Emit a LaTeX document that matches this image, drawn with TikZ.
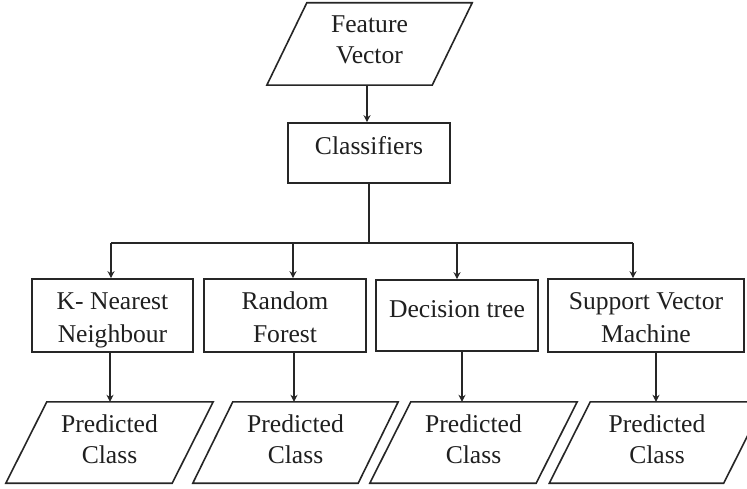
\documentclass[tikz,border=0pt]{standalone}
\usepackage{fontspec}
\setmainfont{Liberation Serif}
\usetikzlibrary{arrows.meta}
% invisible struts that fix the top and bottom of a node's text block
\newcommand\tstrut{\rule{0pt}{30pt}}
\newcommand\bstrut[1]{\rule[-#1pt]{0pt}{#1pt}}
\begin{document}
\begin{tikzpicture}[x=1pt,y=-1pt,
  every node/.style={font=\fontsize{25.6pt}{31pt}\selectfont, align=center, inner sep=0pt, text=black!88},
  procbox/.style={draw=black!85, line width=1.6pt, minimum height=71pt,
                  font=\fontsize{25.6pt}{33pt}\selectfont},
  iobox/.style={minimum height=81pt},
  link/.style={draw=black!85, line width=1.6pt},
  arr/.style={link, -{Stealth[length=7pt,width=7pt]}}
]
\useasboundingbox (0,0) rectangle (747,489);
\fill[white] (0,0) rectangle (747,489);

% input and classifier stage
\node[iobox, minimum width=205pt, minimum height=82pt] (fv) at (369.5,44) {\tstrut Feature\\Vector\bstrut{21}};
\node[procbox, minimum width=162pt, minimum height=60pt] (cls) at (369,153) {\tstrut Classifiers\bstrut{26}};

% the four classifiers
\node[procbox, minimum width=161pt] (knn) at (112.5,315.5) {\tstrut K- Nearest\\Neighbour\bstrut{10}};
\node[procbox, minimum width=162pt] (rf)  at (285,315.5) {\tstrut Random\\Forest\bstrut{10}};
\node[procbox, minimum width=162pt] (dt)  at (457,315.5) {\tstrut Decision tree\bstrut{27}};
\node[procbox, minimum width=196pt] (svm) at (646,315.5) {\tstrut Support Vector\\Machine\bstrut{10}};

% outputs
\node[iobox, minimum width=207pt] (p1) at (109.5,442.5) {\tstrut Predicted\\Class\bstrut{20}};
\node[iobox, minimum width=205pt] (p2) at (295.5,442.5) {\tstrut Predicted\\Class\bstrut{20}};
\node[iobox, minimum width=207pt] (p3) at (473.5,442.5) {\tstrut Predicted\\Class\bstrut{20}};
\node[iobox, minimum width=215pt] (p4) at (657,442.5) {\tstrut Predicted\\Class\bstrut{20}};

% parallelogram outlines around the input/output nodes
\foreach \n/\s in {fv/40,p1/41,p2/40,p3/41,p4/41}{
  \draw[link, line join=miter] ([xshift=\s pt]\n.north west) -- (\n.north east)
     -- ([xshift=-\s pt]\n.south east) -- (\n.south west) -- cycle;
}

% column positions of the connectors
\coordinate (top) at (367,0);
\coordinate (b1) at (111,243);
\coordinate (b2) at (293,243);
\coordinate (b3) at (457,243);
\coordinate (b4) at (633,243);
\coordinate (d1) at (110,0);
\coordinate (d2) at (294,0);
\coordinate (d3) at (462,0);
\coordinate (d4) at (656,0);

\draw[arr] (fv.south -| top) -- (cls.north -| top);
\draw[link] (cls.south) -- (cls.south |- b1);
\draw[link] (b1) -- (b4);
\draw[arr] (b1) -- (knn.north -| b1);
\draw[arr] (b2) -- (rf.north -| b2);
\draw[arr] (b3) -- (dt.north -| b3);
\draw[arr] (b4) -- (svm.north -| b4);

\draw[arr] (knn.south -| d1) -- (p1.north -| d1);
\draw[arr] (rf.south -| d2) -- (p2.north -| d2);
\draw[arr] (dt.south -| d3) -- (p3.north -| d3);
\draw[arr] (svm.south -| d4) -- (p4.north -| d4);
\end{tikzpicture}
\end{document}
